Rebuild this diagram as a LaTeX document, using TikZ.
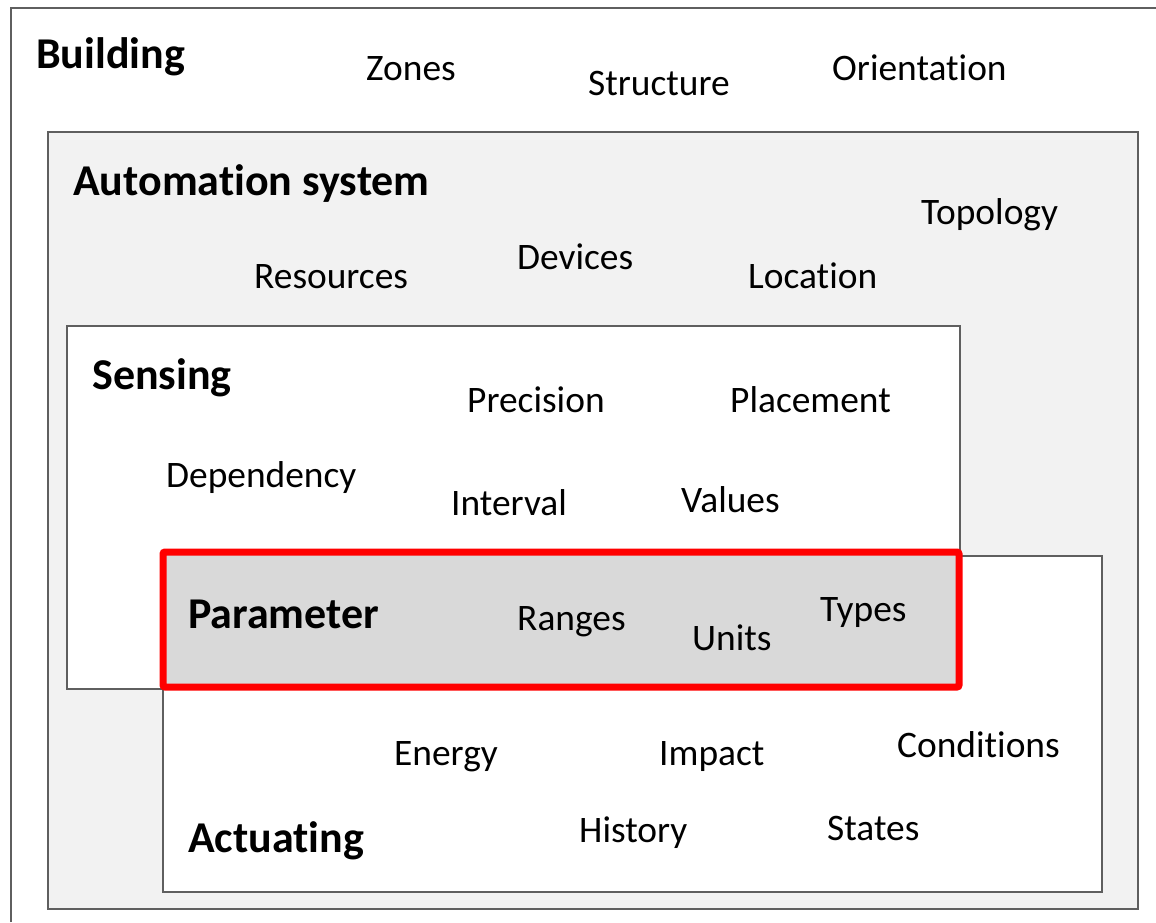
\documentclass[tikz,border=0pt]{standalone}
\usepackage{fontspec}
\setmainfont[Ligatures={NoCommon,NoContextual}]{Carlito}
\usetikzlibrary{positioning}

\definecolor{framegray}{HTML}{5F5F5F}
\definecolor{autofill}{HTML}{F2F2F2}
\definecolor{paramfill}{HTML}{D9D9D9}
\definecolor{paramred}{HTML}{FF0000}

\begin{document}
\begin{tikzpicture}[
    x=1pt, y=-1pt,
    % Layer boxes
    layerbox/.style={draw=framegray, line width=1.5pt},
    autobox/.style={layerbox, fill=autofill},
    plainbox/.style={layerbox, fill=white},
    parambox/.style={draw=paramred, line width=7pt, fill=paramfill, rounded corners=2pt},
    % Texts
    title/.style={anchor=base west, inner sep=0pt, font=\fontsize{44}{50}\selectfont\bfseries},
    term/.style={anchor=base west, inner sep=0pt, font=\fontsize{37.4}{44}\selectfont}
]

\useasboundingbox[fill=white] (0,0) rectangle (1156,922);

% Nested layers
\draw[layerbox] (11,922) -- (11,8) -- (1156,8);
\draw[autobox] (48,132) rectangle (1138,909);
\draw[plainbox] (67,326) rectangle (960,689);
\draw[plainbox] (163,556) rectangle (1102,892);
\draw[parambox] (163,552) rectangle (959,687);

% Building
\node[title] (building) at (36,68) {Building};
\node[term] (zones) at (366,80) {Zones};
\node[term] (structure) at (588,95) {Structure};
\node[term] (orientation) at (832,80) {Orientation};

% Automation system
\node[title] (automation) at (73,195) {Automation system};
\node[term] (topology) at (921,224) {Topology};
\node[term] (resources) at (254,288) {Resources};
\node[term] (devices) at (517,269) {Devices};
\node[term] (location) at (748,288) {Location};

% Sensing
\node[title] (sensing) at (92,389) {Sensing};
\node[term] (precision) at (467,412) {Precision};
\node[term] (placement) at (730,412) {Placement};
\node[term] (dependency) at (166,487) {Dependency};
\node[term] (interval) at (451,515) {Interval};
\node[term] (values) at (681,512) {Values};

% Parameter
\node[title] (parameter) at (188,628) {Parameter};
\node[term] (ranges) at (517,630) {Ranges};
\node[term] (units) at (692,650) {Units};
\node[term] (types) at (820,621) {Types};

% Actuating
\node[term] (energy) at (394,765) {Energy};
\node[term] (impact) at (659,765) {Impact};
\node[term] (conditions) at (897,757) {Conditions};
\node[term] (history) at (579,842) {History};
\node[term] (states) at (827,840) {States};
\node[title] (actuating) at (188,852) {Actuating};

\end{tikzpicture}
\end{document}
